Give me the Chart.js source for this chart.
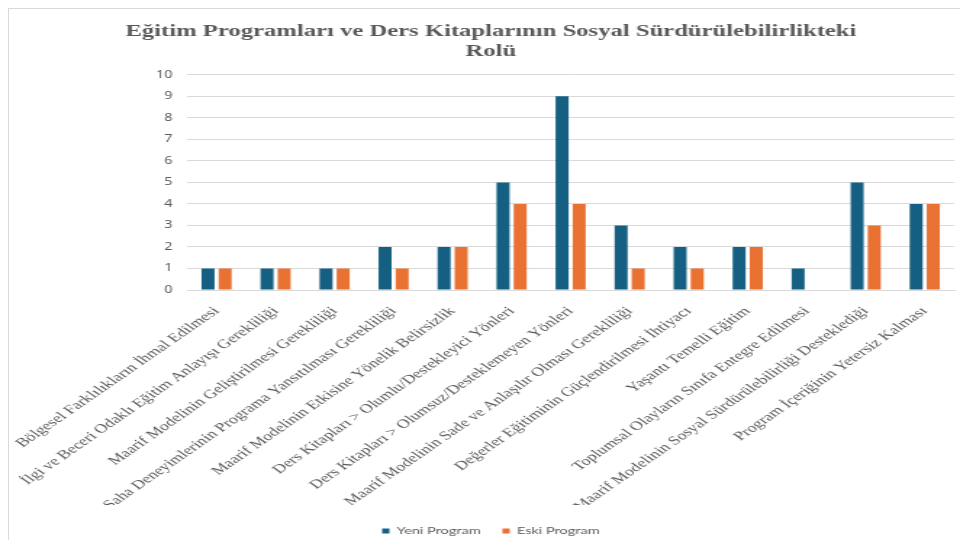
<!DOCTYPE html>
<html>
<head>
<meta charset="utf-8">
<script src="https://cdn.jsdelivr.net/npm/chart.js@4"></script>
<style>
  html, body { margin: 0; padding: 0; background: #fff; }
  #wrap { position: relative; width: 960px; height: 540px; overflow: hidden; }
  #frame { position: absolute; left: 8px; top: 8px; width: 1000px; height: 600px; border: 1px solid #d9d9d9; }
  /* the reference picture is stretched sideways, so the canvas is drawn narrow and widened */
  #chart { position: absolute; left: 0; top: 0; width: 960px; height: 540px; }
</style>
</head>
<body>
<div id="wrap">
  <div id="frame"></div>
  <canvas id="chart" width="662" height="540" style="width:960px;height:540px"></canvas>
</div>
<script>
// chart data
var categories = [
  "Bölgesel Farklılıkların İhmal Edilmesi",
  "İlgi ve Beceri Odaklı Eğitim Anlayışı Gerekliliği",
  "Maarif Modelinin Geliştirilmesi Gerekliliği",
  "Saha Deneyimlerinin Programa Yansıtılması Gerekliliği",
  "Maarif Modelinin Etkisine Yönelik Belirsizlik",
  "Ders Kitapları > Olumlu/Destekleyici Yönleri",
  "Ders Kitapları > Olumsuz/Desteklemeyen Yönleri",
  "Maarif Modelinin Sade ve Anlaşılır Olması Gerekliliği",
  "Değerler Eğitiminin Güçlendirilmesi İhtiyacı",
  "Yaşantı Temelli Eğitim",
  "Toplumsal Olayların Sınıfa Entegre Edilmesi",
  "Maarif Modelinin Sosyal Sürdürülebilirliği Desteklediği",
  "Program İçeriğinin Yetersiz Kalması"
]
var yeniProgram = [1, 1, 1, 2, 2, 5, 9, 3, 2, 2, 1, 5, 4]
var eskiProgram = [1, 1, 1, 1, 2, 4, 4, 1, 1, 2, null, 3, 4]
var yTicks = [0, 1, 2, 3, 4, 5, 6, 7, 8, 9, 10]

var gray = "#595959"
var ctx = document.getElementById("chart").getContext("2d")

// push the legend a bit lower, closer to the bottom edge
var legendShift = {
  id: "legendShift",
  afterLayout: function (chart) {
    chart.legend.top += 6
    chart.legend.bottom += 6
  }
}

var chart = new Chart(ctx, {
  type: "bar",
  data: {
    labels: categories,
    datasets: [
      {
        label: "Yeni Program",
        data: yeniProgram,
        backgroundColor: "#156082",
        barPercentage: 0.76,
        categoryPercentage: 0.58
      },
      {
        label: "Eski Program",
        data: eskiProgram,
        backgroundColor: "#E97132",
        barPercentage: 0.76,
        categoryPercentage: 0.58
      }
    ]
  },
  plugins: [legendShift],
  options: {
    responsive: false,
    animation: false,
    layout: { padding: { left: 19, right: 4, top: 0, bottom: 0 } },
    plugins: {
      title: {
        display: true,
        text: ["Eğitim Programları ve Ders Kitaplarının Sosyal Sürdürülebilirlikteki", "Rolü"],
        color: gray,
        font: { family: "'Liberation Serif', serif", size: 17, weight: "bold", lineHeight: 1.2 },
        padding: { top: 21, bottom: 13 }
      },
      legend: {
        position: "bottom",
        labels: {
          color: gray,
          boxWidth: 5,
          boxHeight: 5,
          padding: 15,
          font: { family: "Lato, sans-serif", size: 10 }
        }
      },
      tooltip: { enabled: false }
    },
    scales: {
      x: {
        grid: { display: false },
        border: { color: "#d9d9d9" },
        afterFit: function (axis) { axis.height = 215 },
        ticks: {
          color: gray,
          autoSkip: false,
          minRotation: 45,
          maxRotation: 45,
          padding: 6,
          font: { family: "'Liberation Serif', serif", size: 12.5 }
        }
      },
      y: {
        min: 0,
        max: 10,
        border: { display: false },
        grid: { color: "#d9d9d9", drawTicks: false },
        afterBuildTicks: function (axis) {
          axis.ticks = yTicks.map(function (v) { return { value: v } })
        },
        afterFit: function (axis) { axis.width = 110 },
        ticks: {
          color: gray,
          padding: 10,
          font: { family: "'Noto Sans', sans-serif", size: 10 }
        }
      }
    }
  }
})
</script>
</body>
</html>
